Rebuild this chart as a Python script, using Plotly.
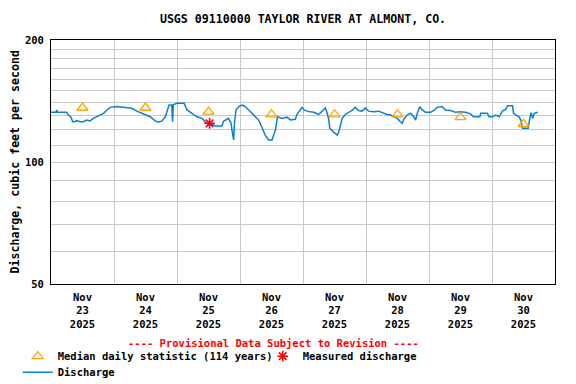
import pandas as pd
import plotly.graph_objects as go

# ---------------- data ----------------
start = pd.Timestamp("2025-11-23 00:00")

# discharge: hours after Nov 23 00:00 and values (cfs)
q_hours = [0.0, 1.9, 2.2, 2.5, 6.0, 6.6, 7.5, 8.3, 9.0, 9.8, 11.1, 12.3, 13.6, 14.9,
           16.1, 17.4, 18.7, 20.0, 21.3, 22.5, 25.1, 27.6, 30.8, 32.7, 34.6, 36.5,
           37.8, 39.7, 41.0, 42.3, 43.5, 44.1, 45.0, 46.0, 46.3, 46.6, 48.0, 50.7,
           51.8, 53.7, 55.6, 57.5, 59.4, 60.0, 61.3, 62.6, 65.1, 65.7, 67.6, 68.6,
           69.1, 69.6, 69.9, 70.5, 71.5, 72.8, 74.0, 75.3, 77.2, 79.1, 80.4, 81.6,
           82.9, 84.2, 85.5, 86.3, 88.0, 89.9, 91.2, 93.1, 93.7, 94.7, 95.6, 96.5,
           97.5, 98.8, 100.1, 101.4, 102.0, 103.3, 104.5, 105.1, 105.8, 106.2, 106.7,
           107.7, 109.0, 109.6, 110.2, 110.9, 112.1, 113.4, 114.7, 115.9, 117.2,
           118.5, 119.8, 121.0, 122.9, 124.8, 126.7, 128.0, 129.3, 130.6, 131.9,
           133.1, 133.8, 134.4, 135.7, 137.0, 138.2, 138.9, 139.5, 140.5, 141.4,
           142.7, 144.6, 145.8, 147.1, 149.0, 150.3, 152.2, 154.1, 156.0, 157.9,
           159.8, 160.9, 163.4, 163.7, 166.2, 166.9, 168.2, 169.4, 170.7, 172.0,
           173.3, 173.9, 175.8, 176.2, 178.3, 179.0, 179.6, 181.8, 182.4, 182.9,
           183.5, 184.1, 185.4]
q_values = [132.6, 132.6, 134.4, 132.6, 132.6, 130.6, 129.3, 125.7, 125.7, 126.5, 125.7,
            125.7, 126.9, 126.3, 128.1, 129.3, 130.6, 131.8, 134.4, 136.4, 137.0, 136.4,
            135.7, 133.5, 131.8, 130.6, 129.3, 126.3, 125.4, 126.3, 129.3, 132.6, 138.2,
            138.2, 125.7, 138.5, 139.6, 139.6, 134.4, 131.8, 129.3, 128.1, 125.0, 123.5,
            124.0, 122.7, 122.7, 126.0, 128.1, 124.6, 118.0, 113.3, 125.0, 134.4, 137.0,
            138.2, 137.0, 134.4, 130.6, 126.9, 121.7, 116.5, 113.3, 113.3, 120.0, 129.3,
            128.1, 129.0, 127.0, 127.5, 131.0, 134.4, 136.4, 134.4, 133.5, 133.0, 132.6,
            131.5, 131.0, 133.5, 136.0, 132.6, 127.5, 121.0, 119.9, 118.5, 116.5, 118.5,
            122.7, 128.0, 131.0, 132.6, 134.0, 136.4, 134.0, 133.5, 136.0, 133.5, 133.0,
            133.5, 131.8, 131.0, 130.6, 129.3, 128.1, 125.7, 124.6, 127.5, 130.6, 132.0,
            129.3, 126.9, 131.8, 137.0, 134.4, 132.6, 132.6, 134.0, 136.4, 137.0, 134.4,
            134.0, 132.6, 133.0, 132.6, 131.5, 129.3, 129.3, 132.0, 132.0, 129.3, 129.3,
            130.6, 129.3, 133.5, 135.0, 137.6, 137.6, 131.8, 129.3, 126.9, 121.1, 121.1,
            128.0, 132.4, 128.1, 131.8, 132.6]

# median daily statistic (114 years), plotted at noon of each day
median_days = ["2025-11-23", "2025-11-24", "2025-11-25", "2025-11-26",
               "2025-11-27", "2025-11-28", "2025-11-29", "2025-11-30"]
median_values = [136, 136, 133, 131, 131, 131, 129, 124]

# measured discharge
measured_times = ["2025-11-25 12:25"]
measured_values = [124.6]

# axis tick labels
x_tick_days = median_days
x_tick_labels = ["Nov<br>23<br>2025", "Nov<br>24<br>2025", "Nov<br>25<br>2025",
                 "Nov<br>26<br>2025", "Nov<br>27<br>2025", "Nov<br>28<br>2025",
                 "Nov<br>29<br>2025", "Nov<br>30<br>2025"]
y_grid_values = [50, 60, 70, 80, 90, 100, 110, 120, 130, 140, 150, 160, 170, 180, 190, 200]
y_tick_labels = ["50", "", "", "", "", "100", "", "", "", "", "", "", "", "", "", "200"]

# ---------------- figure ----------------
q_times = [start + pd.Timedelta(hours=h) for h in q_hours]
median_times = [pd.Timestamp(d) + pd.Timedelta(hours=12) for d in median_days]
x_tick_vals = [pd.Timestamp(d) + pd.Timedelta(hours=12) for d in x_tick_days]

FONT = "DejaVu Sans Mono"
BLUE = "#0b80d0"
W, H = 568, 376   # page body has an 8px margin in the browser
OFF = 8

fig = go.Figure()
fig.add_trace(go.Scatter(x=q_times, y=q_values, mode="lines", name="Discharge",
                         line=dict(color=BLUE, width=1.5), legend="legend2"))
fig.add_trace(go.Scatter(x=median_times, y=median_values, mode="markers",
                         name="Median daily statistic (114 years)", legend="legend",
                         marker=dict(symbol="triangle-up-open", size=9.5, color="#FFA500",
                                     line=dict(width=1.3, color="#FFA500"))))
fig.add_trace(go.Scatter(x=measured_times, y=measured_values, mode="markers",
                         name="Measured discharge", legend="legend",
                         marker=dict(symbol="asterisk-open", size=9, color="#FF0000",
                                     line=dict(width=1.6, color="#FF0000"))))

legend_font = dict(family=FONT, size=10.5, color="black", weight="bold")

fig.update_layout(
    width=W, height=H, autosize=False,
    margin=dict(l=51 - OFF, r=W - (555 - OFF), t=40 - OFF, b=H - (284 - OFF)),
    paper_bgcolor="white", plot_bgcolor="white",
    font=dict(family=FONT, size=10.5, color="black", weight="bold"),
    title=dict(text="USGS 09110000 TAYLOR RIVER AT ALMONT, CO.", xref="paper", x=0.5,
               xanchor="center", yref="container", y=1 - (19 - OFF) / H, yanchor="middle",
               font=dict(family=FONT, size=11.6, color="black", weight="bold")),
    showlegend=True,
    legend=dict(orientation="h", xref="container", yref="container",
                x=(17.7 - OFF) / W, xanchor="left", y=1 - (341.7 - OFF) / H, yanchor="top",
                font=legend_font, itemwidth=30, entrywidth=200,
                bgcolor="rgba(0,0,0,0)", borderwidth=0, itemclick=False),
    legend2=dict(orientation="h", xref="container", yref="container",
                 x=(17.7 - OFF) / W, xanchor="left", y=1 - (357.7 - OFF) / H, yanchor="top",
                 font=legend_font, itemwidth=30,
                 bgcolor="rgba(0,0,0,0)", borderwidth=0, itemclick=False),
    xaxis=dict(range=[start, start + pd.Timedelta(days=8)], type="date",
               tickmode="array", tickvals=x_tick_vals, ticktext=x_tick_labels,
               showgrid=False, ticks="", showline=True, mirror=True,
               linecolor="black", linewidth=1, zeroline=False, ticklabelstandoff=3,
               tickfont=dict(family=FONT, size=10.5, color="black", weight="bold"),
               minor=dict(dtick=86400000, tick0="2025-11-23", showgrid=True,
                          gridcolor="#c8c8c8", gridwidth=1, ticks="")),
    yaxis=dict(type="log", range=[1.69897, 2.30103], tickmode="array",
               tickvals=y_grid_values, ticktext=y_tick_labels,
               showgrid=True, gridcolor="#c8c8c8", gridwidth=1, ticks="",
               showline=True, mirror=True, linecolor="black", linewidth=1,
               zeroline=False, ticklabelstandoff=4,
               tickfont=dict(family=FONT, size=10.5, color="black", weight="bold")),
    annotations=[
        dict(text="Discharge, cubic feet per second", textangle=-90, xref="paper",
             yref="paper", x=(14.5 - 51) / 504, y=0.5, xanchor="center", yanchor="middle",
             showarrow=False, font=dict(family=FONT, size=11.6, color="black", weight="bold")),
        dict(text="---- Provisional Data Subject to Revision ----", xref="paper",
             yref="paper", x=(273.5 - 51) / 504, y=(284 - 342.7) / 244,
             xanchor="center", yanchor="middle", showarrow=False,
             font=dict(family=FONT, size=10.5, color="#FF0000", weight="bold")),
    ],
)

fig.write_html("out.html")
